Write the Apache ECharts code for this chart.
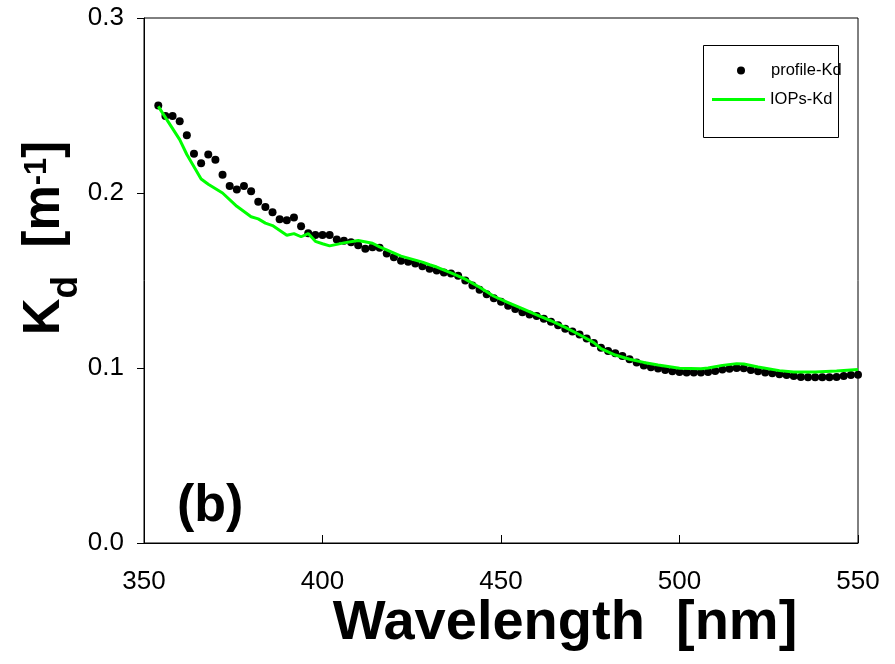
<!DOCTYPE html>
<html><head><meta charset="utf-8">
<script src="https://cdn.jsdelivr.net/npm/echarts/dist/echarts.min.js"></script>
<style>html,body{margin:0;padding:0;background:#fff}#c{width:895px;height:664px}</style>
</head><body><div id="c"></div>
<script>
const profileWl = [354,356,358,360,362,364,366,368,370,372,
  374,376,378,380,382,384,386,388,390,392,
  394,396,398,400,402,404,406,408,410,412,
  414,416,418,420,422,424,426,428,430,432,
  434,436,438,440,442,444,446,448,450,452,
  454,456,458,460,462,464,466,468,470,472,
  474,476,478,480,482,484,486,488,490,492,
  494,496,498,500,502,504,506,508,510,512,
  514,516,518,520,522,524,526,528,530,532,
  534,536,538,540,542,544,546,548,550];
const profileKd = [.250,.244,.244,.241,.233,.2225,.217,.222,.219,.2105,
  .204,.202,.204,.201,.195,.192,.189,.185,.1845,.186,
  .181,.177,.176,.176,.176,.1735,.1727,.1719,.1702,.1681,
  .169,.1687,.1654,.1633,.1613,.1607,.1597,.1582,.1567,.1557,
  .1546,.154,.1527,.15,.1472,.1447,.1422,.1399,.1379,.1356,
  .1337,.1319,.1306,.1297,.1282,.1265,.1245,.1225,.1208,.1192,
  .1168,.1143,.1116,.1097,.1084,.1068,.105,.1031,.1015,.1004,
  .0997,.0989,.0981,.0977,.0974,.0974,.0974,.0977,.0983,.0991,
  .0996,.1,.0998,.0989,.0981,.0975,.097,.0964,.096,.0954,
  .0949,.0947,.0947,.0947,.0947,.0949,.0954,.096,.0962];
const iopsWl = [354,360,362,364,366,368,372,376,380,382,384,386,390,392,394,396,398,400,402,406,410,414,416,422,428,430,432,436,440,444,448,452,456,460,464,468,472,476,478,482,486,490,494,500,506,508,512,516,518,522,528,532,538,544,550];
const iopsKd = [.2495,.2305,.222,.215,.208,.205,.200,.1924,.1864,.1852,.1828,.1814,.1759,.1768,.1750,.1768,.1724,.1710,.1698,.1715,.1728,.1713,.1692,.1639,.1605,.1590,.1577,.1543,.1508,.1461,.1410,.1374,.1339,.1303,.1270,.1232,.1190,.1145,.1111,.1074,.1050,.1032,.1017,.0998,.0996,.1000,.1015,.1025,.1023,.1006,.0985,.0977,.0977,.0983,.0991];
const xTicks = [350, 400, 450, 500, 550];
const yTicks = [0.0, 0.1, 0.2, 0.3];
const seriesNames = ['profile-Kd', 'IOPs-Kd'];

const chart = echarts.init(document.getElementById('c'), null, {renderer: 'canvas'});
const FONT = 'Liberation Sans, Arial, sans-serif';
const legendText = {fontSize: 16.5, color: '#000', fontFamily: FONT};
chart.setOption({
  animation: false,
  backgroundColor: '#fff',
  grid: {left: 144, right: 37, top: 18, bottom: 121, show: true, borderColor: '#000', borderWidth: 1, backgroundColor: 'transparent'},
  xAxis: {
    type: 'value', min: xTicks[0], max: xTicks[xTicks.length - 1], interval: 50,
    axisLine: {lineStyle: {color: '#000', width: 1}},
    axisTick: {inside: true, length: 8, lineStyle: {color: '#000'}},
    axisLabel: {fontSize: 26, color: '#000', fontFamily: FONT, margin: 26},
    splitLine: {show: false}
  },
  yAxis: {
    type: 'value', min: yTicks[0], max: yTicks[yTicks.length - 1], interval: 0.1,
    axisLine: {show: true, lineStyle: {color: '#000', width: 1}},
    axisTick: {show: true, inside: false, length: 7, lineStyle: {color: '#000'}},
    axisLabel: {fontSize: 26, color: '#000', fontFamily: FONT, margin: 20, formatter: v => v.toFixed(1)},
    splitLine: {show: false}
  },
  legend: [
    {left: 713, top: 62, itemWidth: 53, itemHeight: 8, itemGap: 4, padding: 0, symbolKeepAspect: false,
     textStyle: legendText,
     data: [{name: seriesNames[0], icon: 'path://M0,0M53,8M32,4A4,4,0,1,1,24,4A4,4,0,1,1,32,4Z', itemStyle: {color: '#000'}}]},
    {left: 712, top: 91, itemWidth: 53, itemHeight: 3, itemGap: 4, padding: 0,
     textStyle: legendText, data: [{name: seriesNames[1], icon: 'rect'}]}
  ],
  series: [
    {name: seriesNames[0], type: 'scatter', symbol: 'circle', symbolSize: 8,
     itemStyle: {color: '#000', opacity: 1},
     data: profileWl.map((w, i) => [w, profileKd[i]])},
    {name: seriesNames[1], type: 'line', showSymbol: false, symbol: 'none',
     lineStyle: {color: '#00ff00', width: 3}, itemStyle: {color: '#00ff00'},
     data: iopsWl.map((w, i) => [w, iopsKd[i]])}
  ],
  graphic: [
    {type: 'rect', shape: {x: 703.5, y: 45.5, width: 135, height: 92},
     style: {fill: 'none', stroke: '#000', lineWidth: 1}, z: 10},
    {type: 'text', left: 177, top: 481,
     style: {text: '(b)', font: 'bold 52px ' + FONT, fill: '#000'}},
    {type: 'text', x: 565, y: 624,
     style: {text: 'Wavelength  [nm]', font: 'bold 56px ' + FONT, fill: '#000', align: 'center', verticalAlign: 'middle'}},
    {type: 'text', x: 45, y: 238, rotation: Math.PI / 2,
     style: {
       text: '{k|K}{d|d}{k|  [m}{s|-1}{k|]}',
       align: 'center', verticalAlign: 'middle',
       rich: {
         k: {font: 'bold 51px ' + FONT, fill: '#000', height: 86, verticalAlign: 'middle'},
         d: {font: 'bold 37px ' + FONT, fill: '#000', height: 42, verticalAlign: 'bottom'},
         s: {font: 'bold 31px ' + FONT, fill: '#000', height: 70, verticalAlign: 'top'}
       }
     }}
  ]
});
</script>
</body></html>
